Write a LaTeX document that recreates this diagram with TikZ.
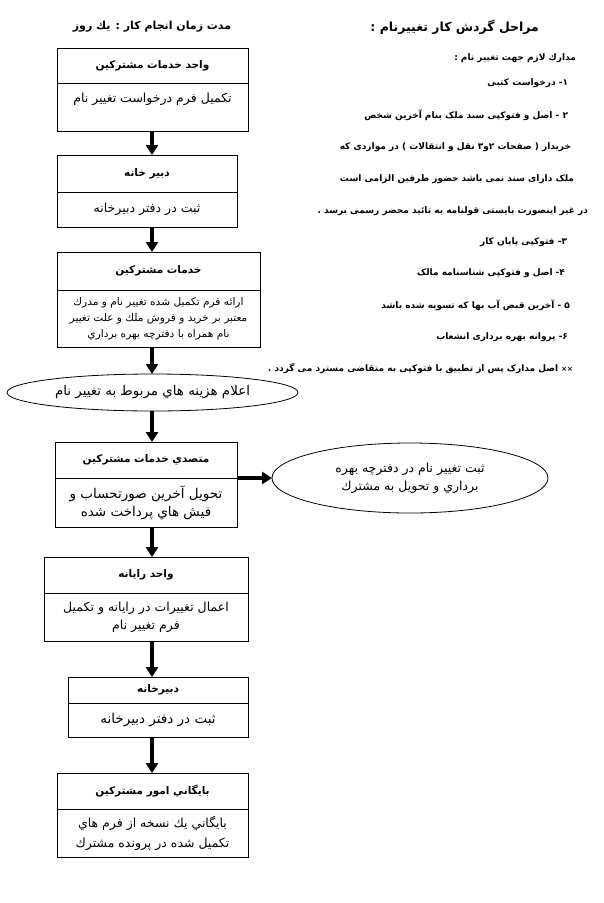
\documentclass[tikz,border=0pt]{standalone}
\usepackage{fontspec}
\TeXXeTstate=1
\newfontfamily\farsi[Script=Arabic]{DejaVu Sans}
\usetikzlibrary{arrows.meta,positioning,shapes.geometric}
\newcommand{\rl}[1]{\beginR#1\endR}

\begin{document}
\begin{tikzpicture}[x=1pt,y=-1pt,
  every node/.style={font=\farsi\fontsize{12.5}{18}\selectfont,inner sep=2pt,outer sep=0pt},
  headbox/.style={draw,line width=0.8pt,font=\farsi\bfseries\fontsize{10.5}{13}\selectfont},
  bodybox/.style={draw,line width=0.8pt,align=center,below=0pt of #1},
  oval/.style={draw,ellipse,line width=0.8pt,inner sep=0pt,align=center},
  flow/.style={line width=3.4pt,-{Triangle[length=10pt,width=12pt]}},
  need/.style={anchor=east,font=\farsi\bfseries\fontsize{9}{12}\selectfont}]
  \useasboundingbox (0,0) rectangle (603,903);
  \coordinate (spine) at (152,0);

  % titles
  \node[font=\farsi\bfseries\fontsize{11}{13}\selectfont] (dur) at (152,27) {\rl{مدت زمان انجام كار : يك روز}};
  \node[font=\farsi\bfseries\fontsize{12.5}{14}\selectfont,anchor=east] (steps) at (541,27) {\rl{مراحل گردش کار تغییرنام :}};

  % documents needed
  \foreach \y/\x/\t in {58/578/مدارك لازم جهت تغيير نام :,
      83/570/۱-   درخواست کتبی,
      115/570/۲ -  اصل و فتوکپی سند ملک بنام آخرین شخص,
      147/573/خریدار ( صفحات ۲و۳ نقل و انتقالات ) در مواردی که,
      179/576/ملک دارای سند نمی باشد حضور طرفین الزامی است,
      211/590/در غیر اینصورت بایستی قولنامه به تائید محضر رسمی برسد .,
      242/569/۳-   فتوکپی پایان کار,
      273/567/۴-   اصل و فتوکپی شناسنامه مالک,
      305/572/۵ -  آخرین قبض آب بها که تسویه شده باشد,
      337/570/۶-   پروانه بهره برداری انشعاب}
    \node[need] (doc\y) at (\x,\y) {\rl{\t}};
  \node[need] (note) at (575,369) {\rl{{\fontsize{7}{9}\selectfont ××} اصل مدارک پس از تطبیق با فتوکپی به متقاضی مسترد می گردد .}};

  % flow chart
  \node[headbox,minimum width=191,minimum height=35] (h1) at (152.5,65.5) {\rl{واحد خدمات مشتركين}};
  \node[bodybox=h1,minimum width=191,minimum height=48,text depth=19pt] (b1) {\rl{تکمیل فرم درخواست تغییر نام}};

  \node[headbox,minimum width=180,minimum height=37] (h2) at (147,173.5) {\rl{دبیر خانه}};
  \node[bodybox=h2,minimum width=180,minimum height=35] (b2) {\rl{ثبت در دفتر دبیرخانه}};

  \node[headbox,minimum width=203,minimum height=38] (h3) at (158.5,271) {\rl{خدمات مشتركين}};
  \node[bodybox=h3,minimum width=203,minimum height=57,font=\farsi\fontsize{10.6}{16}\selectfont] (b3) {\rl{ارائه فرم تکمیل شده تغییر نام و مدرك}\\\rl{معتبر بر خرید و فروش ملك و علت تغییر}\\\rl{نام همراه با دفترچه بهره برداري}};

  \node[oval,minimum width=291,minimum height=37,font=\farsi\fontsize{13.4}{18}\selectfont] (e1) at (152.5,392.5) {\rl{اعلام هزینه هاي مربوط به تغییر نام}};

  \node[headbox,minimum width=182,minimum height=36] (h4) at (146,460) {\rl{متصدي خدمات مشتركين}};
  \node[bodybox=h4,minimum width=182,minimum height=49,font=\farsi\fontsize{13.5}{18}\selectfont] (b4) {\rl{تحویل آخرین صورتحساب و}\\\rl{فیش هاي پرداخت شده}};

  \node[oval,minimum width=276,minimum height=70] (e2) at (410,478) {\rl{ثبت تغییر نام در دفترچه بهره}\\\rl{برداري و تحویل به مشترك}};

  \node[headbox,minimum width=204,minimum height=36] (h5) at (146,575) {\rl{واحد رایانه}};
  \node[bodybox=h5,minimum width=204,minimum height=48] (b5) {\rl{اعمال تغییرات در رایانه و تکمیل}\\\rl{فرم تغییر نام}};

  \node[headbox,minimum width=180,minimum height=26] (h6) at (158,690) {\rl{دبیرخانه}};
  \node[bodybox=h6,minimum width=180,minimum height=34,font=\farsi\fontsize{13.5}{18}\selectfont] (b6) {\rl{ثبت در دفتر دبیرخانه}};

  \node[headbox,minimum width=191,minimum height=36] (h7) at (152.5,791) {\rl{بایگاني امور مشتركين}};
  \node[bodybox=h7,minimum width=191,minimum height=48,font=\farsi\fontsize{12.5}{20}\selectfont] (b7) {\rl{بایگاني یك نسخه از فرم هاي}\\\rl{تکمیل شده در پرونده مشترك}};

  % arrows
  \draw[flow] (b1.south -| spine) -- (h2.north -| spine);
  \draw[flow] (b2.south -| spine) -- (h3.north -| spine);
  \draw[flow] (b3.south -| spine) -- (e1.north -| spine);
  \draw[flow] (e1.south -| spine) -- (h4.north -| spine);
  \draw[flow] (h4.south east) -- (e2.west);
  \draw[flow] (b4.south -| spine) -- (h5.north -| spine);
  \draw[flow] (b5.south -| spine) -- (h6.north -| spine);
  \draw[flow] (b6.south -| spine) -- (h7.north -| spine);
\end{tikzpicture}
\end{document}
